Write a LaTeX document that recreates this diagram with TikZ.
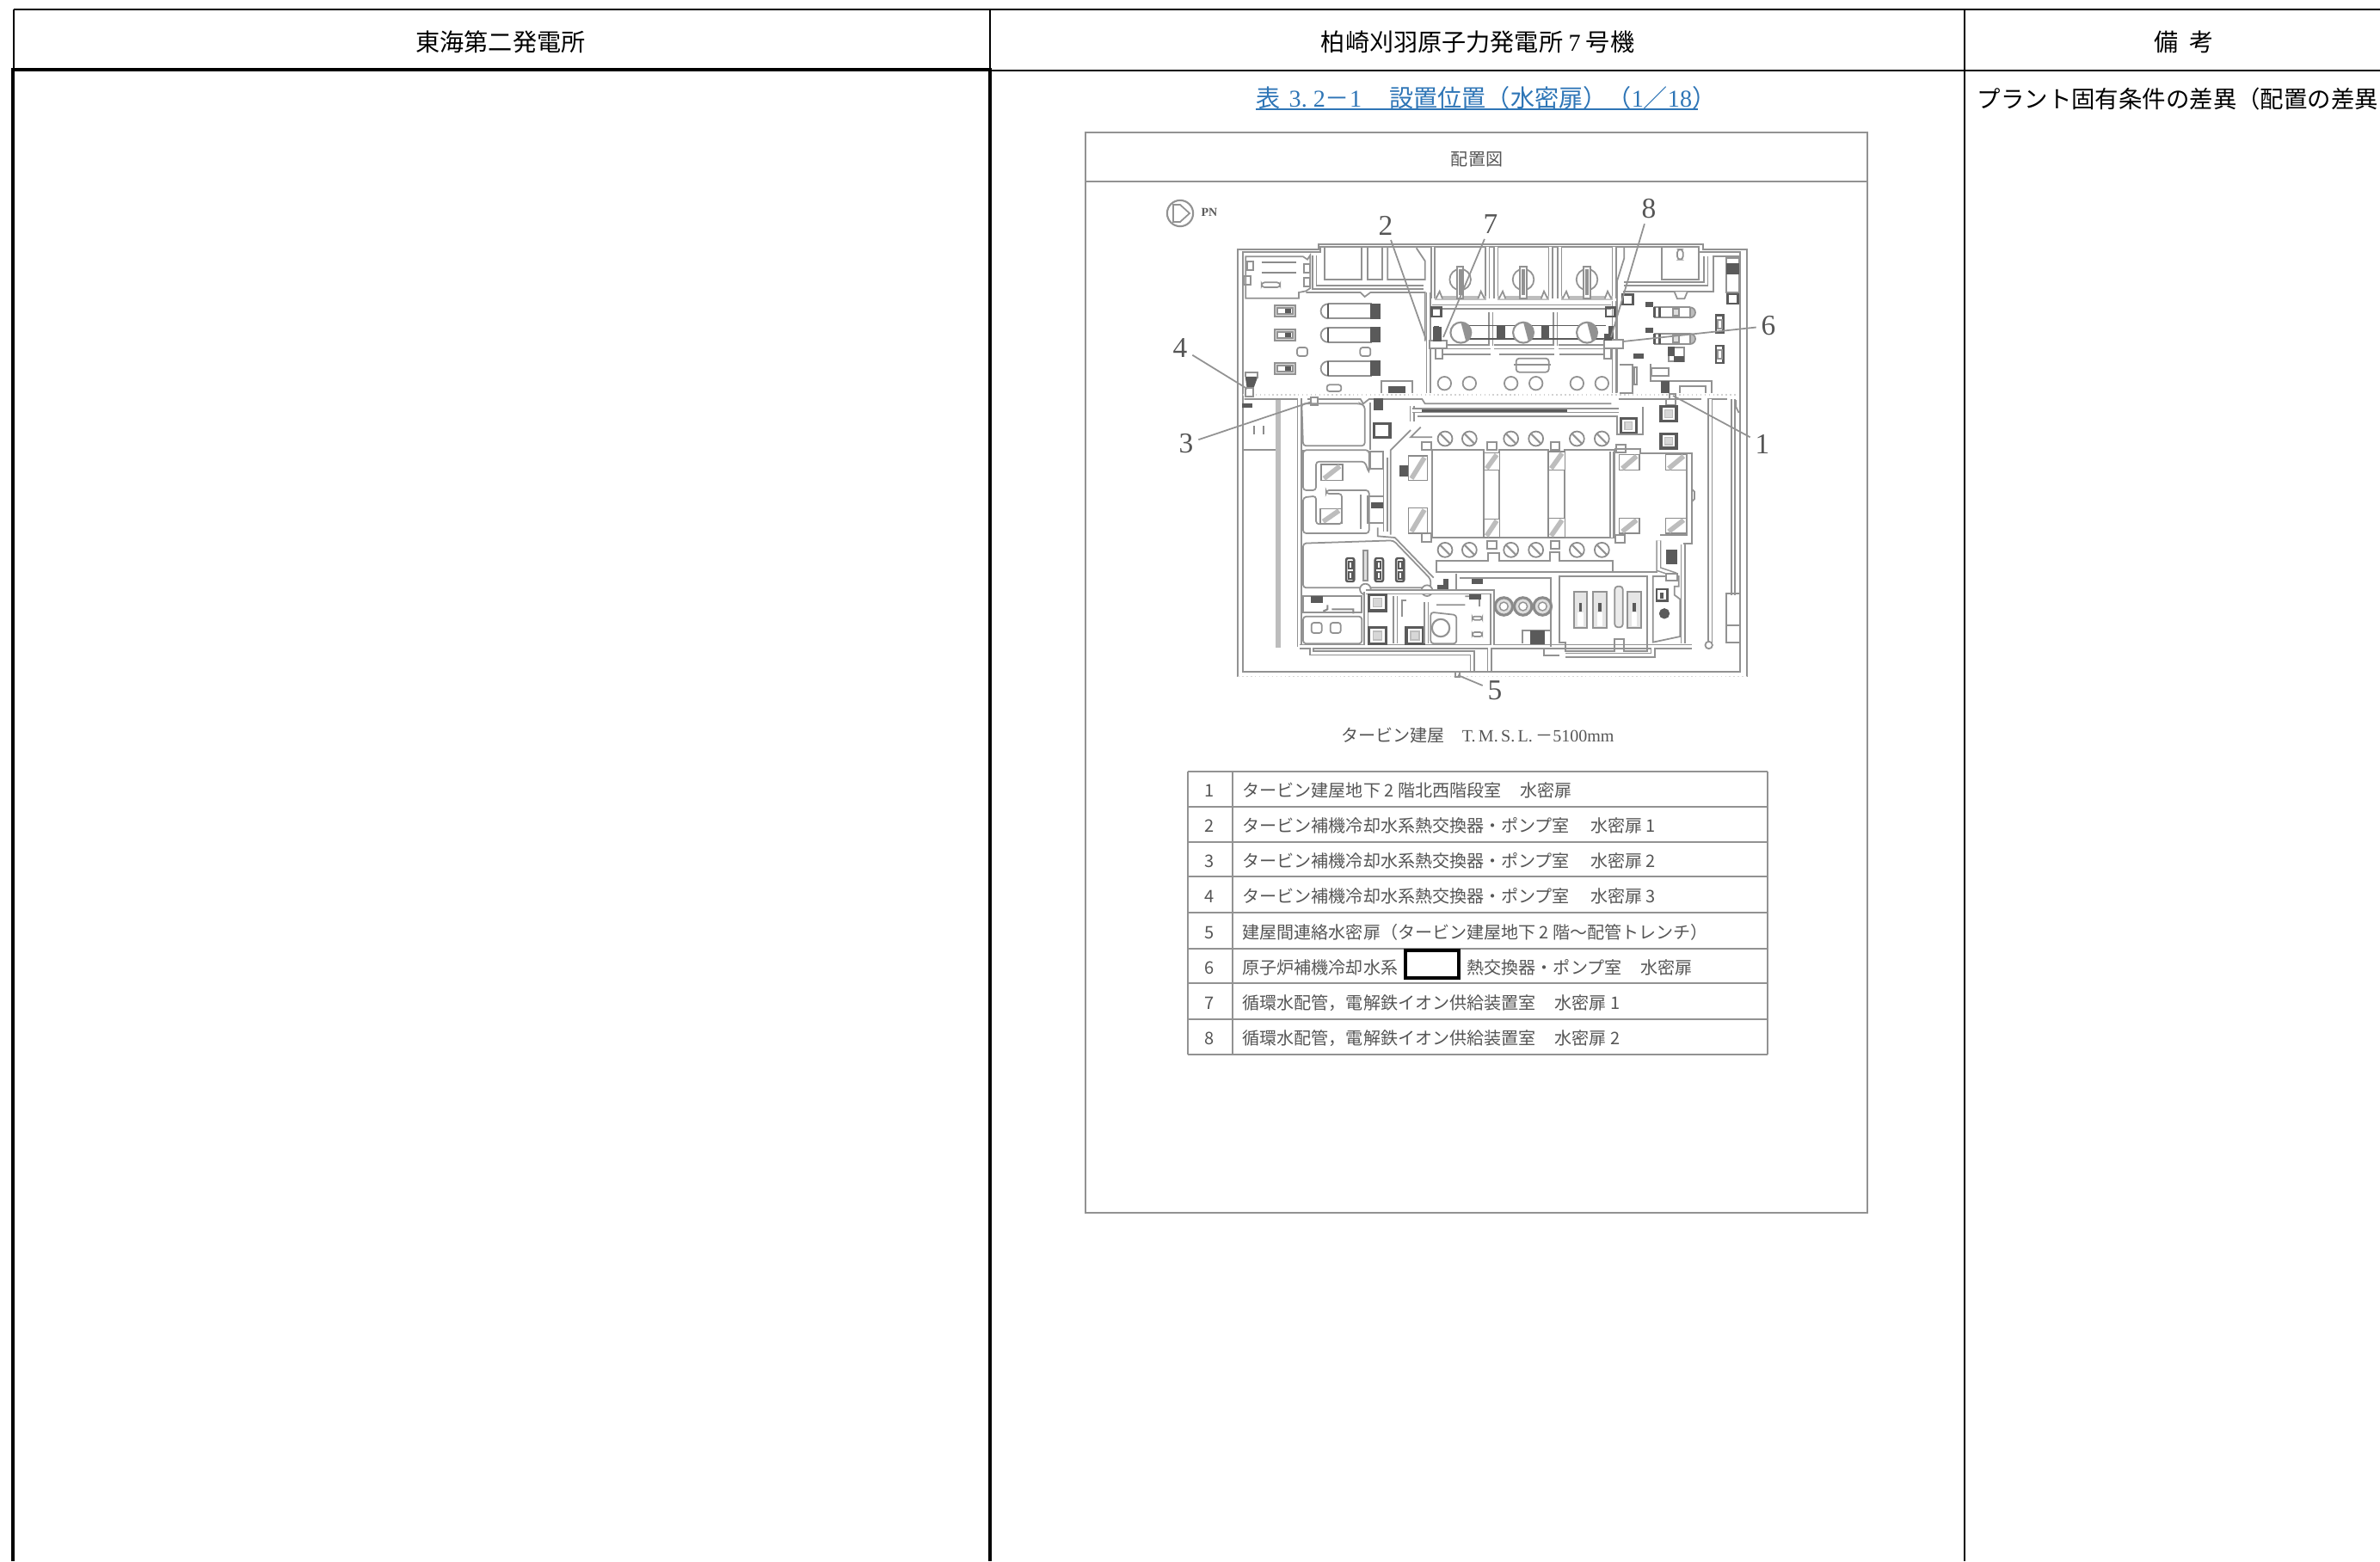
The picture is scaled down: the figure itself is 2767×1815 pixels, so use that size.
\documentclass[tikz,border=0pt]{standalone}
\usepackage{fontspec}
\setmainfont{Liberation Serif}
\newfontfamily\jp{Noto Sans CJK JP}
\usetikzlibrary{positioning, calc}
\newcommand{\zl}{\symbol{"FF08}}
\newcommand{\zr}{\symbol{"FF09}}
\newcommand{\zs}{\symbol{"FF0F}}
\newcommand{\zm}{\symbol{"FF0D}}
\newcommand{\zc}{\symbol{"FF0C}}
\definecolor{planline}{HTML}{929292}
\definecolor{plandark}{HTML}{5A5A5A}
\definecolor{planfill}{HTML}{BDBDBD}
\definecolor{plantext}{HTML}{555555}
\definecolor{linkblue}{HTML}{2E75B6}
\tikzset{
  headtext/.style={font=\jp\fontsize{8}{10}\selectfont,inner sep=0pt},
  rowtext/.style={font=\jp\fontsize{5.7}{7}\selectfont,text=plantext,inner sep=0pt},
  doornum/.style={font=\fontsize{9.5}{11}\selectfont,text=plantext,inner sep=1.5pt},
  leader/.style={draw=planline,line width=0.5pt},
  ln/.style={draw=planline,line width=0.5pt},
  wall/.style={draw=planline,line width=0.45pt,double=white,double distance=0.8pt},
  fat/.style={draw=planfill,line width=1.5pt},
  dk/.style={fill=plandark,draw=plandark,line width=0.3pt},
  panelline/.style={draw=planline,line width=0.6pt},
}
\begin{document}
\begin{tikzpicture}[x=0.01cm,y=-0.01cm]
  \useasboundingbox (0,0) rectangle (2767,1815);
  \draw[black,line width=0.6pt](16,11)--(2767,11);%top line
  \draw[black,line width=0.6pt](1151,82)--(2767,82);
  \draw[black,line width=0.5pt](16,11)--(16,82);
  \draw[black,line width=0.4pt](1151,11)--(1151,82);
  \draw[black,line width=0.6pt](2284,11)--(2284,1815);
  \draw[black,line width=1.4pt](15,1815)--(15,81)--(1151,81)--(1151,1815);%thick frame
  \node[headtext] (tokai) at (582,49){東海第二発電所};
  \node[headtext] (kk) at (1718,49){柏崎刈羽原子力発電所 {\rmfamily 7} 号機};
  \node[headtext] (biko) at (2539,49){備\hspace{.45em}考};
  \node[headtext,anchor=west,font=\jp\fontsize{7.8}{10}\selectfont] (sai) at (2298,115){プラント固有条件の差異\zl 配置の差異};
  \node[headtext,text=linkblue,anchor=west] (hyo) at (1460,114){表\hspace{.35em}{\rmfamily 3.\hspace{.25em}2}\zm{\rmfamily 1}\hspace{1.15em}設置位置\zl 水密扉\zr\zl{\rmfamily 1}\zs{\rmfamily 18}\zr};
  \draw[linkblue,line width=0.6pt](1460,127)--(1974,127);
  %panel
  \draw[panelline](1262,154) rectangle (2171,1410);
  \draw[panelline](1262,211)--(2171,211);
  \node[rowtext] (haichi) at (1717,185){配置図};
  \node[rowtext] (caption) at (1718,855){タービン建屋\hspace{1em}{\rmfamily T.\,M.\,S.\,L.}\,\zm{\rmfamily 5100mm}};
  %north mark
  \draw[ln,line width=0.6pt](1372,248) circle (4.3pt);
  \draw[ln,fill=white](1372,238)--(1383,248)--(1372,258)--(1364,258)--(1364,238)--cycle;
  \node[font=\fontsize{4}{4}\selectfont\bfseries,text=plandark,inner sep=0pt] (pn) at (1406,247){PN};
  %plan, in thirds of a pixel
  \begin{scope}[shift={(1400,260)},x=0.01cm/3,y=-0.01cm/3]
    %outer walls
    \draw[ln](118,1580)--(118,90)--(400,90)--(400,72)--(1740,72)--(1740,90)--(1892,90)--(1892,1580);
    \draw[ln](135,1563)--(135,100)--(405,100)--(405,82)--(1725,82)--(1725,100)--(1870,100)--(1870,1563)--cycle;
    \draw[planfill!60,line width=0.4pt,densely dotted](118,1580)--(1892,1580);
    \draw[planfill!70,line width=0.4pt,densely dotted](135,597)--(1860,597);
    %upper left room
    \draw[ln](145,260)--(145,115)--(345,115)--(360,125)--(370,110)--(370,225)--(355,235)--(330,240)--(330,260)--cycle;
    \foreach \x/\y in {160/148,358/155,150/198,358/205}
      \draw[ln](\x-11,\y-15) rectangle (\x+11,\y+15);
    \draw[plandark!70,line width=0.6pt](200,135)--(320,135) (200,172)--(320,172);
    \draw[ln,rounded corners=1pt](200,205) rectangle (265,222);
    \draw[wall](385,110)--(385,222)--(765,222);
    \draw[ln](355,240)--(545,240)--(560,255)--(580,240)--(770,240)--(770,410);
    \foreach \xa/\xb in {420/550,570/620}
      \draw[ln](\xa,82)--(\xa,195)--(\xb,195)--(\xb,82);
    \draw[ln](640,82)--(640,195)--(770,195)--(770,130)--(740,85);
    %pump pits
    \foreach \x in {893,1113,1335}{
      \draw[wall](\x-95,82)--(\x-95,262);
      \draw[wall](\x+95,82)--(\x+95,262);
      \draw[fat](\x-90,260)--(\x+90,260);
      \draw[ln,fill=white](\x-85,262)--(\x-72,236)--(\x-62,262);
      \draw[ln,fill=white](\x+85,262)--(\x+72,236)--(\x+62,262);
      \draw[ln](\x,195) circle (3.5pt);
      \draw[ln,line width=0.6pt,fill=white](\x-11,150) rectangle (\x+11,262);
      \draw[ln](\x-3,160)--(\x-3,250) (\x+3,160)--(\x+3,250);
    }
    %right part of north side
    \draw[ln](1595,82)--(1595,195)--(1725,195)--(1725,82);
    \draw[ln,rounded corners=1pt](1650,90) rectangle (1670,125);
    \draw[ln](1465,82)--(1465,120)--(1440,200)--(1440,590);
    \draw[wall](1465,210)--(1750,210)--(1750,115);
    \draw[ln](1460,238)--(1775,238)--(1775,115)--(1865,115);
    \draw[ln,fill=white](1640,238)--(1650,262)--(1675,262)--(1685,238);
    %upper middle hall
    \draw[wall](782,240)--(782,590);
    \draw[wall](1430,270)--(1430,590);
    \draw[wall](795,290)--(1420,290);
    \draw[wall](795,430)--(1000,430) (1010,430)--(1220,430) (1235,430)--(1420,430);
    \draw[ln](810,455)--(1000,455) (1030,455)--(1220,455) (1240,455)--(1410,455);
    \foreach \x in {1000,1225}
      \draw[wall](\x,308)--(\x,425);
    \draw[plandark,line width=0.4pt](880,355)--(1400,355) (880,402)--(1400,402);
    \foreach \x in {895,1113,1335}{
      \draw[ln,fill=white,line width=0.6pt](\x,380) circle (3.4pt);
      \draw[fill=planline,draw=none](\x,344) arc (90:-60:3.4pt)--cycle;
    }
    \foreach \x in {1035,1190}
      \draw[dk](\x-12,356) rectangle (\x+12,404);
    \foreach \x in {810,1417}{
      \draw[plandark,line width=0.7pt](\x-16,292) rectangle (\x+16,324);
      \draw[dk](\x-6,358) rectangle (\x+8,405);
    }
    \draw[ln,rounded corners=1pt](1088,470) rectangle (1202,518);
    \draw[ln](1080,492)--(1210,492);
    \foreach \x in {838,925,1070,1157,1300,1387}
      \draw[ln](\x,557) circle (2.2pt);
    %left hall equipment
    \foreach \y in {305,388,505}{
      \draw[ln,fill=planfill!50](245,\y-19) rectangle (318,\y+19);
      \draw[ln,fill=white](255,\y-10) rectangle (308,\y+10);
      \draw[dk](285,\y-6) rectangle (300,\y+6);
      \draw[ln](432,\y-25)--(585,\y-25) (432,\y+25)--(585,\y+25);
      \draw[ln,fill=white](432,\y-25) arc (90:270:2.4pt);
      \draw[plandark,line width=0.7pt](432,\y-25)--(432,\y+25);
      \draw[dk](582,\y-25) rectangle (612,\y+25);
    }
    \foreach \x in {342,562}
      \draw[ln,rounded corners=0.8pt](\x-18,432) rectangle (\x+18,462);
    \draw[ln,rounded corners=0.8pt](428,562) rectangle (478,585);
    \draw[ln](618,592)--(618,548)--(725,548)--(725,592);
    \draw[dk](645,568) rectangle (700,590);
    \draw[dk](145,535)--(185,535)--(172,570)--(150,570)--cycle;
    \draw[ln](145,535)--(145,518)--(185,518)--(185,540);
    \draw[ln,fill=white](143,572) rectangle (170,602);
    \draw[dk](135,628) rectangle (165,640);
    %south side of the middle line
    \draw[ln](140,612)--(330,612) (360,612)--(545,612)--(555,628)--(575,612)--(760,612)--(770,628)--(1420,628);
    \draw[ln](1445,612)--(1735,612) (1755,612)--(1825,612);
    \draw[ln,fill=white](372,605) rectangle (396,634);
    \draw[ln,fill=white](1622,595) rectangle (1645,612);
    \draw[ln,fill=white](1612,612) rectangle (1645,632);
    \draw[ln,rounded corners=1pt](340,628)--(345,775)--(560,775)--(560,635)--(545,628)--cycle;
    \draw[wall](332,610)--(332,1475);
    \draw[fat,line width=1.7pt](258,615)--(258,1480);
    \draw[ln](135,790)--(250,790);
    \draw[plandark!70,line width=0.5pt](175,705)--(175,735) (208,705)--(208,735);
    %dark squares
    \foreach \x/\y in {1620/663,1480/705,1620/758}{
      \draw[plandark,line width=1pt,fill=white](\x-27,\y-25) rectangle (\x+27,\y+25);
      \draw[planfill,fill=planfill!60](\x-13,\y-13) rectangle (\x+13,\y+13);
    }
    \draw[dk](592,612) rectangle (622,650);
    \draw[plandark,line width=1pt,fill=white](592,698) rectangle (648,745);
    %upper wall of main block
    \draw[wall](725,635)--(725,690);
    \draw[wall](725,652)--(1445,652);
    \draw[ln](745,672)--(1440,672)--(1440,735)--(1530,735)--(1530,640);
    \draw[plandark,line width=0.8pt](760,652)--(1265,652);
    \draw[ln](720,720)--(650,790)--(650,1085);
    \draw[ln](755,710)--(720,745)--(795,745);
    \draw[ln](580,625)--(580,790);
    %turbine bays
    \foreach \xa/\xb in {795/975,1030/1200,1258/1430}
      \draw[ln,line width=0.5pt](\xa,790) rectangle (\xb,1095);
    \foreach \x/\y in {775/775,775/1095,1003/775,1003/1120,1224/775,1224/1120,1450/1100,1453/785}
      \draw[ln,fill=white](\x-16,\y-14) rectangle (\x+16,\y+14);
    %hatched bays
    \foreach \xa/\ya/\xb/\yb in {408/840/483/895,405/995/480/1045,713/810/778/895,713/992/778/1080,
      975/800/1030/860,975/1030/1030/1095,1200/795/1258/860,1200/1028/1258/1095,
      1448/805/1518/860,1610/805/1682/860,1448/1028/1518/1080,1610/1028/1682/1080}{
      \draw[plandark!70,line width=0.4pt,fill=white](\xa,\ya) rectangle (\xb,\yb);
      \draw[planfill,line width=1.6pt](\xa+10,\yb-6)--(\xb-10,\ya+6);
    }
    %left rooms
    \draw[ln,rounded corners=1pt](345,800)--(345,930)--(390,930)--(390,830)--(560,830)--(575,870)--(575,790)--(345,790)--cycle;
    \draw[ln,rounded corners=1pt](345,1080)--(345,955)--(390,950)--(390,1048)--(480,1048)--(480,942)--(425,942)--(425,930)--(575,930)--(575,1080)--cycle;
    \draw[ln](580,795) rectangle (625,855);
    \draw[ln](545,945)--(545,1065);
    \draw[ln](570,950)--(570,1045)--(640,1045)--(640,950)--cycle;
    \draw[dk](585,975) rectangle (625,992);
    \draw[dk](682,845) rectangle (708,880);
    \draw[wall](632,815)--(632,1075);
    %tank room
    \draw[ln,rounded corners=1pt](345,1115)--(660,1105)--(790,1240)--(790,1270)--(345,1270)--cycle;
    \draw[ln](605,1060)--(605,1090)--(665,1095)--(800,1235);
    \foreach \x in {509,610,683}{
      \draw[plandark,line width=0.7pt,rounded corners=0.6pt,fill=white](\x-14,1167) rectangle (\x+14,1248);
      \draw[plandark,line width=0.5pt](\x-6,1178) rectangle (\x+6,1202) (\x-6,1215) rectangle (\x+6,1238);
    }
    \draw[ln,fill=planfill!50](555,1140) rectangle (570,1245);
    \draw[dk](815,1262)--(835,1262)--(835,1240)--(850,1240)--(850,1275)--(815,1275)--cycle;
    \foreach \x/\y in {562/1275,777/1280}
      \draw[ln,fill=white](\x,\y) circle (1.8pt);
    %row of pumps and corridor
    \foreach \x in {840,925,1070,1157,1300,1387}{
      \draw[plandark!70,line width=0.5pt,fill=white](\x,750) circle (2.4pt);
      \draw[planline,line width=0.6pt](\x-16,734)--(\x+16,766);
      \draw[plandark!70,line width=0.5pt,fill=white](\x,1138) circle (2.4pt);
      \draw[planline,line width=0.6pt](\x-16,1122)--(\x+16,1154);
    }
    \draw[ln](810,1215)--(1425,1215)--(1425,1175)--(1240,1175)--(1240,1145)--(1205,1145)--(1205,1175)--(1030,1175)--(1030,1150)--(990,1150)--(990,1175)--(810,1175)--cycle;
    %lower left rooms
    \draw[wall](332,1475)--(1700,1475);
    \draw[wall](375,1478)--(375,1498)--(935,1498)--(935,1560);
    \draw[wall](995,1480)--(995,1560);
    \draw[ln](1185,1480)--(1185,1505)--(1240,1505);
    \draw[wall](1260,1505)--(1565,1505)--(1565,1480);
    \draw[wall](565,1285)--(565,1470);
    \draw[wall](565,1285)--(1005,1285)--(1005,1470);
    \draw[ln](345,1300)--(550,1300)--(550,1355)--(345,1355)--cycle;
    \draw[dk](375,1300) rectangle (412,1320);
    \draw[ln,rounded corners=1pt](345,1370)--(550,1370)--(550,1465)--(345,1465)--cycle;
    \draw[plandark!70,line width=0.6pt](445,1345)--(520,1345)--(520,1360) (430,1330)--(430,1345)--(415,1352);
    \foreach \x/\y in {392/1410,458/1410}
      \draw[ln,rounded corners=0.8pt,line width=0.5pt](\x-18,\y-18) rectangle (\x+18,\y+18);
    \foreach \x/\y in {605/1322,605/1437,735/1437}{
      \draw[plandark,line width=1pt,fill=white](\x-30,\y-28) rectangle (\x+30,\y+28);
      \draw[planfill,fill=planfill!60](\x-15,\y-15) rectangle (\x+15,\y+15);
    }
    \draw[wall](667,1300)--(667,1465);
    \draw[ln](690,1370)--(690,1315)--(705,1315);
    \draw[ln,line width=0.5pt,rounded corners=1pt](790,1355)--(880,1365)--(880,1465)--(790,1465)--cycle;
    \draw[ln,line width=0.6pt](825,1410) circle (2.9pt);
    \draw[wall](775,1320)--(775,1465);
    \draw[ln,rounded corners=1pt](810,1330)--(910,1330) (910,1300)--(960,1300)--(960,1335);
    \draw[dk](925,1295) rectangle (965,1310);
    \draw[ln,rounded corners=0.8pt](935,1370) rectangle (970,1382);
    \draw[ln,rounded corners=0.8pt](935,1425) rectangle (970,1440);
    \draw[ln](890,1235)--(1210,1235)--(1210,1475);
    \draw[dk](935,1240) rectangle (970,1255);
    \draw[ln](880,1220)--(880,1275);
    %lower right rooms
    \foreach \x in {1045,1112,1180}{
      \draw[plandark!70,line width=0.9pt,fill=planfill!50](\x,1335) circle (2.9pt);
      \draw[planline,fill=white](\x,1335) circle (1.4pt);
    }
    \draw[ln,line width=0.5pt](1110,1465)--(1110,1420)--(1205,1420);
    \draw[dk](1138,1420) rectangle (1185,1465);
    \draw[ln](1240,1230)--(1545,1230)--(1545,1490)--(1465,1490)--(1465,1450)--(1430,1450)--(1430,1490)--(1260,1490)--(1260,1460)--(1240,1460)--cycle;
    \foreach \x in {1312,1380,1500}{
      \draw[ln,line width=0.6pt,fill=planfill!40](\x-23,1285) rectangle (\x+23,1410);
      \draw[fill=white,draw=none](\x-10,1355) rectangle (\x+10,1405);
      \draw[dk](\x-4,1325) rectangle (\x+4,1352);
    }
    \draw[ln,rounded corners=1pt,fill=planfill!30](1432,1265) rectangle (1460,1408);
    \draw[ln](1565,1230)--(1655,1230)--(1655,1265)--(1640,1265)--(1640,1295)--(1660,1310)--(1660,1440)--(1565,1460)--cycle;
    \draw[plandark,line width=0.8pt,fill=white](1578,1275) rectangle (1615,1315);
    \draw[dk](1590,1290) rectangle (1600,1305);
    \draw[dk](1605,1360) circle (1.6pt);
    \draw[wall](1670,1120)--(1670,1465);
    \draw[wall](1585,1105)--(1585,1205)--(1645,1225);
    \draw[dk](1612,1140) rectangle (1648,1185);
    \draw[ln,fill=white](1610,1220) rectangle (1650,1245);
    %east side of main block
    \draw[ln](1430,785)--(1520,785)--(1520,800)--(1700,800)--(1700,1115)--(1670,1115);
    \draw[ln](1682,800)--(1682,1085)--(1590,1085);
    \draw[wall](1422,1095)--(1422,795);
    \draw[ln](1700,925)--(1710,935)--(1710,960)--(1700,970);
    \draw[ln](1425,1215)--(1580,1215);
    %long walls on the east
    \draw[wall](1765,612)--(1765,1470);
    \draw[ln,fill=white](1760,1470) circle (1.2pt);
    \draw[wall](1845,612)--(1845,1295);
    \draw[ln](1820,1290) rectangle (1868,1462);
    \draw[ln](1825,1400)--(1865,1400);
    \draw[ln](1855,615)--(1855,640)--(1865,660);
    %north-east hall
    \foreach \x/\y in {1478/265,1843/262}
      \draw[plandark,line width=0.8pt,fill=white](\x-18,\y-17) rectangle (\x+18,\y+17);
    \draw[ln,fill=white](1822,120) rectangle (1865,240);
    \draw[dk](1822,140) rectangle (1865,175);
    \foreach \y in {310,402}{
      \draw[ln](1570,\y-18)--(1695,\y-18) (1570,\y+18)--(1695,\y+18);
      \draw[plandark,line width=0.7pt](1570,\y-18)--(1570,\y+18) (1588,\y-18)--(1588,\y+18);
      \draw[ln,fill=planfill!50](1635,\y-12) rectangle (1655,\y+12);
      \draw[ln,fill=planfill](1695,\y-18) arc (90:-90:1.7pt)--cycle;
    }
    \foreach \y in {282,372}
      \draw[dk](1540,\y-7) rectangle (1565,\y+7);
    \foreach \y in {350,456}{
      \draw[plandark,line width=0.7pt,fill=white](1785,\y-30) rectangle (1810,\y+30);
      \draw[ln](1790,\y-15) rectangle (1805,\y+15);
    }
    \draw[ln,fill=white](1620,432) rectangle (1675,480);
    \draw[dk](1618,432) rectangle (1640,460);
    \draw[dk](1640,465) rectangle (1672,480);
    \draw[dk](1498,455) rectangle (1530,468);
    \draw[ln](1450,492)--(1495,492)--(1495,590)--(1450,590);
    \draw[ln,line width=0.6pt](1500,500) rectangle (1510,560);
    \draw[ln](1558,490)--(1558,550)--(1770,550)--(1770,590);
    \draw[ln](1560,505) rectangle (1620,530);
    \draw[dk](1595,552) rectangle (1620,590);
    \draw[ln](1660,590)--(1660,568)--(1750,568)--(1750,590);
    %doors on the middle line
    \draw[ln,fill=white](1395,405) rectangle (1460,435);
    \draw[dk](1395,385) rectangle (1420,405);
    \draw[ln,fill=white](1395,435) rectangle (1420,470);
    \draw[ln,fill=white](785,408) rectangle (845,435);
    \draw[ln,fill=white](808,435) rectangle (832,470);
    \draw[dk](800,362) rectangle (825,408);
    %door 5 on the bottom wall
    \draw[ln,fill=white](875,1563) rectangle (892,1580);
  \end{scope}
  %door names
  \coordinate (door1) at (1945,460);
  \coordinate (door2) at (1658,395);
  \coordinate (door3) at (1525,467);
  \coordinate (door4) at (1450,452);
  \coordinate (door5) at (1695,785);
  \coordinate (door6) at (1887,397);
  \coordinate (door7) at (1678,392);
  \coordinate (door8) at (1873,392);
  \node[doornum] (num1) at (2049,516){1};
  \node[doornum] (num2) at (1611,262){2};
  \node[doornum] (num3) at (1379,516){3};
  \node[doornum] (num4) at (1372,404){4};
  \node[doornum] (num5) at (1738,803){5};
  \node[doornum] (num6) at (2056,379){6};
  \node[doornum] (num7) at (1733,261){7};
  \node[doornum] (num8) at (1917,243){8};
  \foreach \k in {1,...,8}
    \draw[leader](num\k)--(door\k);
  %table of doors
  \foreach \y in {897,938,979,1019,1061,1103,1143,1185,1226}
    \draw[panelline](1381,\y)--(2055,\y);
  \draw[panelline](1381,897)--(1381,1226);
  \draw[panelline](1433,897)--(1433,1226);
  \draw[panelline](2055,897)--(2055,1226);
  \foreach \k/\y in {1/919,2/960,3/1001,4/1042,5/1084,6/1125,7/1166,8/1207}
    \node[rowtext] (no\k) at (1406,\y){\k};
  \node[rowtext,anchor=west] (row1) at (1444,919){タービン建屋地下 2 階北西階段室\hspace{1.1em}水密扉};
  \node[rowtext,anchor=west] (row2) at (1444,960){タービン補機冷却水系熱交換器・ポンプ室\hspace{1.2em}水密扉 1};
  \node[rowtext,anchor=west] (row3) at (1444,1001){タービン補機冷却水系熱交換器・ポンプ室\hspace{1.2em}水密扉 2};
  \node[rowtext,anchor=west] (row4) at (1444,1042){タービン補機冷却水系熱交換器・ポンプ室\hspace{1.2em}水密扉 3};
  \node[rowtext,anchor=west] (row5) at (1444,1084){建屋間連絡水密扉\zl タービン建屋地下 2 階〜配管トレンチ\zr};
  \node[rowtext,anchor=west] (row6) at (1444,1125){原子炉補機冷却水系};
  \node[rowtext,anchor=west] (row7) at (1444,1166){循環水配管\zc 電解鉄イオン供給装置室\hspace{1.1em}水密扉 1};
  \node[rowtext,anchor=west] (row8) at (1444,1207){循環水配管\zc 電解鉄イオン供給装置室\hspace{1.1em}水密扉 2};
  \node[draw=black,line width=0.9pt,minimum width=0.62cm,minimum height=0.32cm,inner sep=0pt] (mask) at (1665,1121){};
  \node[rowtext,anchor=west] (row6b) at (1705,1125){熱交換器・ポンプ室\hspace{1.1em}水密扉};
\end{tikzpicture}
\end{document}
